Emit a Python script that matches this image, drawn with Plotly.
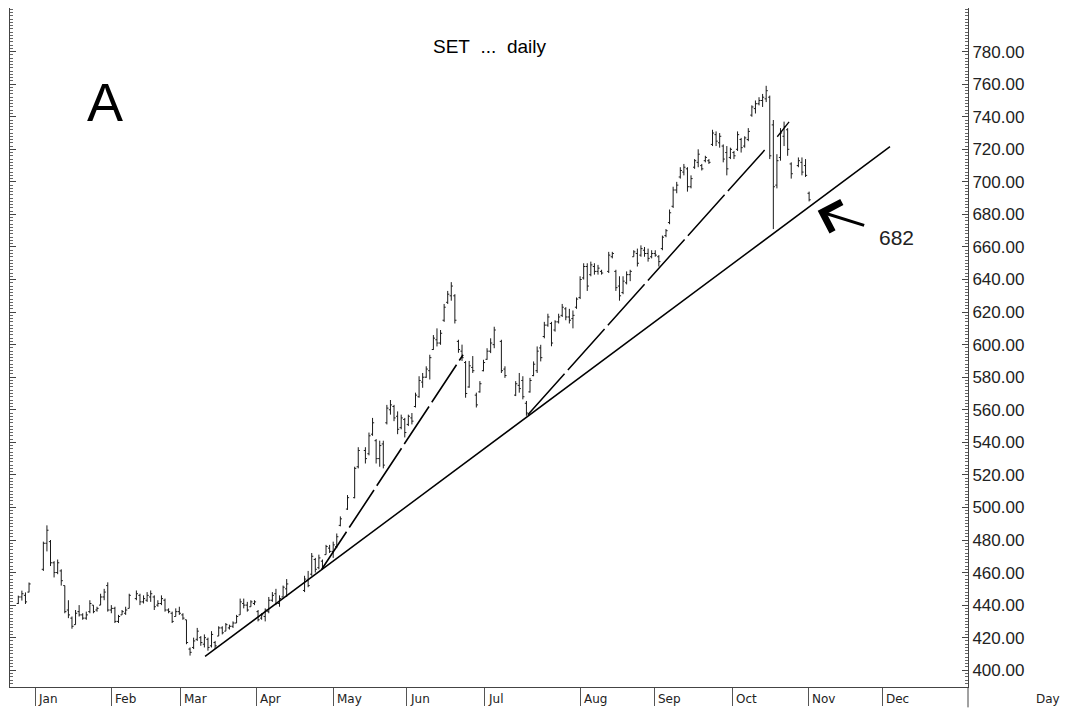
import plotly.graph_objects as go

# ---------------- data (trading-day slot, open, high, low, close) ----------------
day = [0, 1, 2, 3,
       7, 8, 9, 10, 11, 12, 13, 14, 15, 16, 17, 18, 19, 20, 21, 22, 23, 24, 25,
       26, 27, 28, 29, 30, 31, 33, 34, 35, 36, 37, 38, 39, 40, 41, 42, 43, 44, 45, 46, 47,
       48, 49, 50, 51, 52, 53, 54, 55, 56, 57, 58, 59, 60, 61, 62, 63, 64, 65, 66, 67, 68, 69, 70, 71,
       72, 73, 74, 75,
       80, 81, 82, 83, 84, 85, 86, 87, 88, 89, 90, 92, 94, 95, 97, 98, 99, 100, 101, 102,
       103, 104, 105, 106, 107, 108, 109, 110, 111, 112, 113, 114, 115, 116, 117, 118, 119, 120, 121, 122,
       123, 124, 125, 126, 127, 128, 129, 130, 131, 132, 133, 135, 136,
       139, 140, 141, 142, 143, 144, 145, 146, 147,
       148, 149, 150, 151, 152, 153, 154, 155, 156, 157, 158, 159, 160, 161, 162, 163,
       165, 166, 167, 168, 169, 170, 171, 172, 173, 174, 175, 176, 177, 178, 179,
       180, 181, 182, 183, 184, 185, 186, 187, 188, 189, 190, 191, 192, 193,
       194, 195, 196, 197, 198, 199, 200, 201, 202, 203, 204,
       205, 206, 207, 208, 209, 210, 211, 212, 213, 214, 215, 216, 218, 219, 220, 221]

open_ = [441, 445, 446, 448,
         462, 478, 479, 466, 460, 461, 452, 437, 432, 428, 436, 434, 432, 436, 440, 437, 440, 445, 452,
         437, 438, 430, 434, 435, 438, 444, 446, 442, 443, 445, 445, 440, 441, 443, 437, 435, 433, 436, 434, 431,
         413, 414, 419, 420, 416, 419, 415, 417, 421, 426, 424, 426, 427, 429, 434, 441, 440, 439, 441, 436, 432, 433, 436, 443,
         447, 441, 445, 450,
         449, 455, 459, 468, 463, 467, 471, 475, 473, 476, 489, 499, 506, 525, 535, 533, 545, 541, 530, 539,
         552, 560, 562, 556, 549, 554, 551, 555, 562, 568, 577, 580, 584, 597, 603, 601, 615, 626, 630, 630,
         602, 596, 589, 574, 586, 569, 571, 584, 591, 596, 600, 602, 585,
         569, 575, 578, 564, 571, 581, 584, 598, 605,
         612, 613, 609, 614, 618, 622, 617, 616, 623, 629, 641, 648, 643, 648, 645, 645,
         645, 654, 645, 636, 632, 638, 643, 654, 656, 655, 658, 656, 654, 656, 654,
         659, 667, 675, 685, 695, 703, 706, 708, 697, 709, 712, 710, 713, 713,
         723, 729, 724, 722, 718, 715, 718, 720, 726, 722, 726,
         741, 745, 748, 750, 751, 752, 735, 698, 715, 728, 732, 711, 710, 712, 710, 693]

high = [445.8, 448.9, 447.8, 453.9,
        479, 489, 480, 467, 468, 462, 452, 443, 433, 437, 440, 435, 436, 443, 440, 439, 447, 450, 454,
        440, 439, 434, 437, 439, 447, 449, 447, 446, 448, 449, 446, 443, 446, 444, 438, 436, 438, 439, 435, 431,
        414, 420, 426, 421, 422, 420, 424, 418, 427, 427, 429, 428, 430, 434, 444, 444, 442, 443, 443, 437, 435, 438, 445, 448,
        450, 446, 452, 456,
        458, 461, 472, 469, 471, 468, 477, 477, 479, 484, 494.5, 507.6, 525, 537, 537, 546, 555, 542, 541, 541,
        563, 566, 563, 559, 557, 555, 557, 558, 570.5, 580.6, 582.6, 586.7, 593.8, 605.9, 610, 609, 625, 633, 638.4, 631,
        603, 600, 590, 590, 593, 570.5, 577.6, 590.7, 597.8, 603.9, 611, 603, 586.7,
        577.6, 582.6, 580.6, 565.4, 579.6, 589.7, 598.9, 599.9, 614,
        619, 614, 615, 619, 625, 623, 622, 621, 629, 642, 650, 650, 651, 650, 649, 646,
        657, 657, 646, 642, 642, 645, 646, 658, 659, 661, 660, 659, 658, 658, 655,
        667, 671, 683, 697, 700, 709, 711, 709, 704, 714, 720, 711, 716, 714,
        732, 731, 730, 723, 722, 721, 719, 731, 727, 728, 733,
        747, 750, 752, 754, 759, 753, 738, 717, 733, 737, 733, 712, 715, 715, 714, 694]

low = [440.7, 442.8, 440.7, 447.8,
       461, 473, 464, 457, 459, 452, 435, 432, 425.5, 428, 433, 431, 431, 435, 435, 436, 440, 443, 436,
       435, 429, 429, 434, 434, 438, 443, 440, 441, 442, 442, 437, 439, 440, 436, 435, 429, 433, 434, 431, 416,
       409, 413, 418, 415, 414, 412, 414, 413, 421, 422, 424, 425, 426, 429, 434, 438, 436, 439, 440, 430, 431, 430, 435, 442,
       440, 439, 445, 445,
       448, 451, 458, 460, 462, 462, 471, 472, 469, 475, 488.4, 498.5, 505.6, 524, 527, 532, 544, 527, 525, 524,
       551, 557, 553, 545, 548, 543, 550, 551, 561.4, 567.4, 573.5, 579.6, 578.6, 596.8, 598.9, 599.9, 614, 625, 627, 613,
       595, 590, 567.4, 573.5, 582.6, 561.4, 570.5, 583.6, 590.7, 594.8, 597.8, 582.6, 579.6,
       568.4, 570.5, 566.4, 556.3, 570.5, 580.6, 582.6, 589.7, 603.9,
       611, 599, 608, 613, 617, 615, 613, 610, 622, 628, 640, 633, 642, 643, 643, 643,
       644, 653, 633, 627, 631, 637, 639, 654, 648, 654, 654, 651, 653, 654, 648,
       658, 666, 674, 684, 693, 702, 704, 694, 696, 708, 709, 707, 712, 711,
       722, 722, 721, 712, 704, 714, 714, 719, 718, 721, 725,
       740, 742, 747, 746, 749, 714, 671, 696, 713, 722, 716, 702, 709, 704, 703, 688]

close = [445, 447, 442, 453,
         478, 486, 466, 460, 466, 455, 436, 434, 427, 435, 434, 432, 434, 441, 436, 438, 445, 448, 437,
         438, 430, 433, 436, 437, 446, 447, 442, 444, 446, 447, 439, 441, 444, 437, 436, 430, 436, 435, 432, 417,
         411, 418, 424, 417, 420, 414, 422, 415, 426, 423, 428, 427, 429, 433, 442, 440, 437, 442, 442, 431, 434, 437, 443, 446,
         441, 444, 451, 453,
         456, 452, 470, 462, 469, 463, 476, 473, 477, 482, 493, 506, 524, 535, 530, 544, 552, 530, 538, 526,
         561, 563, 555, 548, 555, 546, 556, 553, 569, 578, 580, 585, 592, 604, 601, 607, 623, 631, 636, 615,
         597, 592, 570, 587, 584, 563, 576, 589, 596, 601, 609, 584, 581,
         576, 573, 568, 558, 578, 588, 596, 592, 612,
         617, 601, 614, 617, 623, 617, 615, 618, 628, 640, 648, 636, 649, 645, 647, 644,
         655, 656, 635, 630, 639, 643, 645, 657, 650, 659, 656, 653, 656, 655, 651,
         666, 670, 681, 695, 698, 707, 709, 697, 702, 713, 717, 708, 715, 712,
         730, 725, 728, 714, 708, 720, 716, 729, 721, 727, 731,
         746, 748, 750, 752, 756, 716, 697, 713, 730, 734, 720, 705, 713, 706, 704, 689]

# month labels and the trading-day slot where each month starts on the axis
month_labels = ["Jan", "Feb", "Mar", "Apr", "May", "Jun", "Jul", "Aug", "Sep", "Oct", "Nov", "Dec"]
month_slots = [4.67, 26.18, 45.46, 66.69, 88.21, 108.6, 130.4, 157.2, 177.9, 199.7, 220.9, 241.6]

# analyst trend lines (slot, price)
main_trend_x = [52.2, 243.6]
main_trend_y = [408.5, 721.6]
trend2_x = [84.8, 124.3]
trend2_y = [462.0, 593.8]
trend3_x = [142.4, 208.6]
trend3_y = [557.0, 719.6]
trend4_x = [212.1, 215.4]
trend4_y = [727.7, 736.8]

# arrow: head and tail (slot, price)
arrow_head = (223.4, 682.2)
arrow_tail = (236.8, 673.0)

y_ticks = list(range(400, 781, 20))

FONT = "Liberation Sans, Arial, sans-serif"
AXFONT = "DejaVu Sans, Verdana, sans-serif"

fig = go.Figure()

fig.add_trace(go.Ohlc(
    x=day, open=open_, high=high, low=low, close=close,
    increasing=dict(line=dict(color="#1a1a1a", width=1)),
    decreasing=dict(line=dict(color="#1a1a1a", width=1)),
    tickwidth=0.45, showlegend=False, hoverinfo="skip"))

fig.add_trace(go.Scatter(x=main_trend_x, y=main_trend_y, mode="lines",
                         line=dict(color="black", width=1.5), showlegend=False, hoverinfo="skip"))
fig.add_trace(go.Scatter(x=trend2_x, y=trend2_y, mode="lines",
                         line=dict(color="black", width=1.6, dash="45px,5px"), showlegend=False, hoverinfo="skip"))
fig.add_trace(go.Scatter(x=trend3_x, y=trend3_y, mode="lines",
                         line=dict(color="black", width=1.5, dash="55px,5px"), showlegend=False, hoverinfo="skip"))
fig.add_trace(go.Scatter(x=trend4_x, y=trend4_y, mode="lines",
                         line=dict(color="black", width=1.3), showlegend=False, hoverinfo="skip"))

annotations = []
for lab, pos in zip(month_labels, month_slots):
    annotations.append(dict(x=pos, y=-0.017, xref="x", yref="paper", text=lab, showarrow=False,
                            xanchor="left", yanchor="middle", xshift=1,
                            font=dict(family=AXFONT, size=12, color="#222")))
annotations.append(dict(x=1.083, y=-0.017, xref="paper", yref="paper", text="Day", showarrow=False,
                        xanchor="center", yanchor="middle",
                        font=dict(family=AXFONT, size=12, color="#222")))
annotations.append(dict(x=0.501, y=0.943, xref="paper", yref="paper",
                        text="SET\u00a0\u00a0...\u00a0\u00a0daily", showarrow=False,
                        xanchor="center", yanchor="middle", font=dict(family=FONT, size=19, color="black")))
annotations.append(dict(x=0.099, y=0.8615, xref="paper", yref="paper", text="A", showarrow=False,
                        xanchor="center", yanchor="middle", font=dict(family=FONT, size=54, color="black")))
annotations.append(dict(x=0.925, y=0.662, xref="paper", yref="paper", text="682", showarrow=False,
                        xanchor="center", yanchor="middle", font=dict(family=FONT, size=21, color="#222")))
annotations.append(dict(x=arrow_head[0], y=arrow_head[1], ax=arrow_tail[0], ay=arrow_tail[1],
                        xref="x", yref="y", axref="x", ayref="y", text="", showarrow=True,
                        arrowhead=4, arrowsize=2.0, arrowwidth=3, arrowcolor="black"))

fig.update_layout(
    width=1066, height=713,
    margin=dict(l=10, r=98, t=8, b=19),
    paper_bgcolor="white", plot_bgcolor="white",
    annotations=annotations,
    shapes=[dict(type="line", xref="paper", yref="paper", x0=1, x1=1, y0=0, y1=-0.03,
                 line=dict(color="#444", width=1))],
    xaxis=dict(range=[-2.32, 265.4], showgrid=False, zeroline=False,
               showline=True, linecolor="#444", linewidth=1,
               tickmode="array", tickvals=month_slots, ticktext=month_labels,
               showticklabels=False, ticks="outside", ticklen=18, tickcolor="#555", tickwidth=1,
               rangeslider=dict(visible=False), fixedrange=True),
    yaxis=dict(range=[389.7, 806.8], side="right", showgrid=False, zeroline=False,
               showline=True, linecolor="#444", linewidth=1, mirror="ticks",
               tickmode="array", tickvals=y_ticks, ticktext=[f"{v:.2f}" for v in y_ticks],
               ticks="inside", ticklen=6, tickcolor="#444",
               minor=dict(dtick=2, ticks="inside", ticklen=3, tickcolor="#666"),
               tickfont=dict(family=FONT, size=17, color="#222"), fixedrange=True),
)

fig.write_html("out.html")
